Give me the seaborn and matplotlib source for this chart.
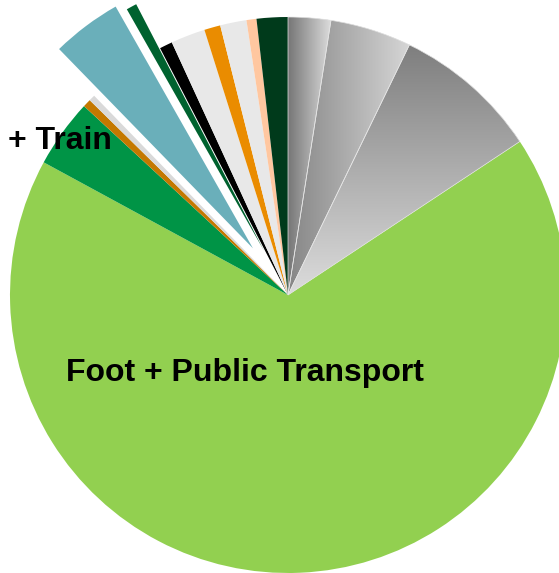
import numpy as np
import matplotlib
matplotlib.use("Agg")
import matplotlib.pyplot as plt
from matplotlib.colors import LinearSegmentedColormap
from matplotlib.patches import Wedge
import seaborn as sns

# Share of trips per travel mode (percent), clockwise from 12 o'clock
categories = [
    "Mode A", "Mode B", "Mode C", "Foot + Public Transport", "+ Train",
    "Mode F", "Mode G", "Mode H", "Mode I", "Mode J",
    "Mode K", "Mode L", "Mode M", "Mode N", "Mode O",
]
shares = [2.47, 4.72, 8.50, 67.22, 3.97, 0.47, 0.36, 4.06, 0.61, 0.75,
          2.00, 0.94, 1.53, 0.58, 1.81]
colors = ["#a0a0a0", "#b0b0b0", "#a8a8a8", "#92d050", "#009446",
          "#c47800", "#d9d9d9", "#6aafba", "#00622f", "#000000",
          "#e8e8e8", "#ea8c00", "#e8e8e8", "#ffc7a0", "#003a1b"]
explode = [0, 0, 0, 0, 0, 0, 0, 0.21, 0.18, 0, 0, 0, 0, 0, 0]

# Gray slices filled with a gradient: (index, direction, start colour, end colour)
gradients = [
    (0, "horizontal", "#767676", "#dcdcdc"),
    (1, "horizontal", "#868686", "#d6d6d6"),
    (2, "vertical", "#7e7e7e", "#dcdcdc"),
]

sns.set_theme(style="white")
plt.rcParams["font.family"] = ["Liberation Sans", "DejaVu Sans"]

W, H, DPI = 559, 573, 100
fig = plt.figure(figsize=(W / DPI, H / DPI), dpi=DPI)
ax = fig.add_axes([0, 0, 1, 1])

wedges, _ = ax.pie(
    shares, colors=colors, explode=explode, startangle=90,
    counterclock=False, radius=1.0,
    wedgeprops=dict(linewidth=0),
)

for idx, direction, c0, c1 in gradients:
    w = wedges[idx]
    ext = w.get_path().get_extents()
    cmap = LinearSegmentedColormap.from_list(f"g{idx}", [c0, c1])
    ramp = np.linspace(0, 1, 256)
    img = ramp[np.newaxis, :] if direction == "horizontal" else ramp[:, np.newaxis]
    im = ax.imshow(img, cmap=cmap, extent=(ext.x0, ext.x1, ext.y0, ext.y1),
                   origin="upper", aspect="auto", interpolation="bilinear",
                   zorder=w.get_zorder() + 0.1)
    im.set_clip_path(w)
    # faint light seam along the slice border
    ax.add_patch(Wedge(w.center, w.r, w.theta1, w.theta2, fill=False,
                       edgecolor="#e6e6e6", linewidth=0.5,
                       zorder=w.get_zorder() + 0.2))

# Pie centre at (288, 295) px with a 278 px radius
cx, cy, R = 288, 295, 278
ax.set_xlim(-cx / R, (W - cx) / R)
ax.set_ylim(-(H - cy) / R, cy / R)
ax.set_aspect("auto")
ax.axis("off")

def px(x, y):
    return (x - cx) / R, (cy - y) / R

tx, ty = px(245, 381)
ax.text(tx, ty, "Foot + Public Transport", ha="center", va="baseline",
        fontsize=23, fontweight="bold", color="black", zorder=10)
tx, ty = px(8, 149)
ax.text(tx, ty, "+ Train", ha="left", va="baseline",
        fontsize=23, fontweight="bold", color="black", zorder=10)

fig.savefig("out.png", dpi=DPI)
